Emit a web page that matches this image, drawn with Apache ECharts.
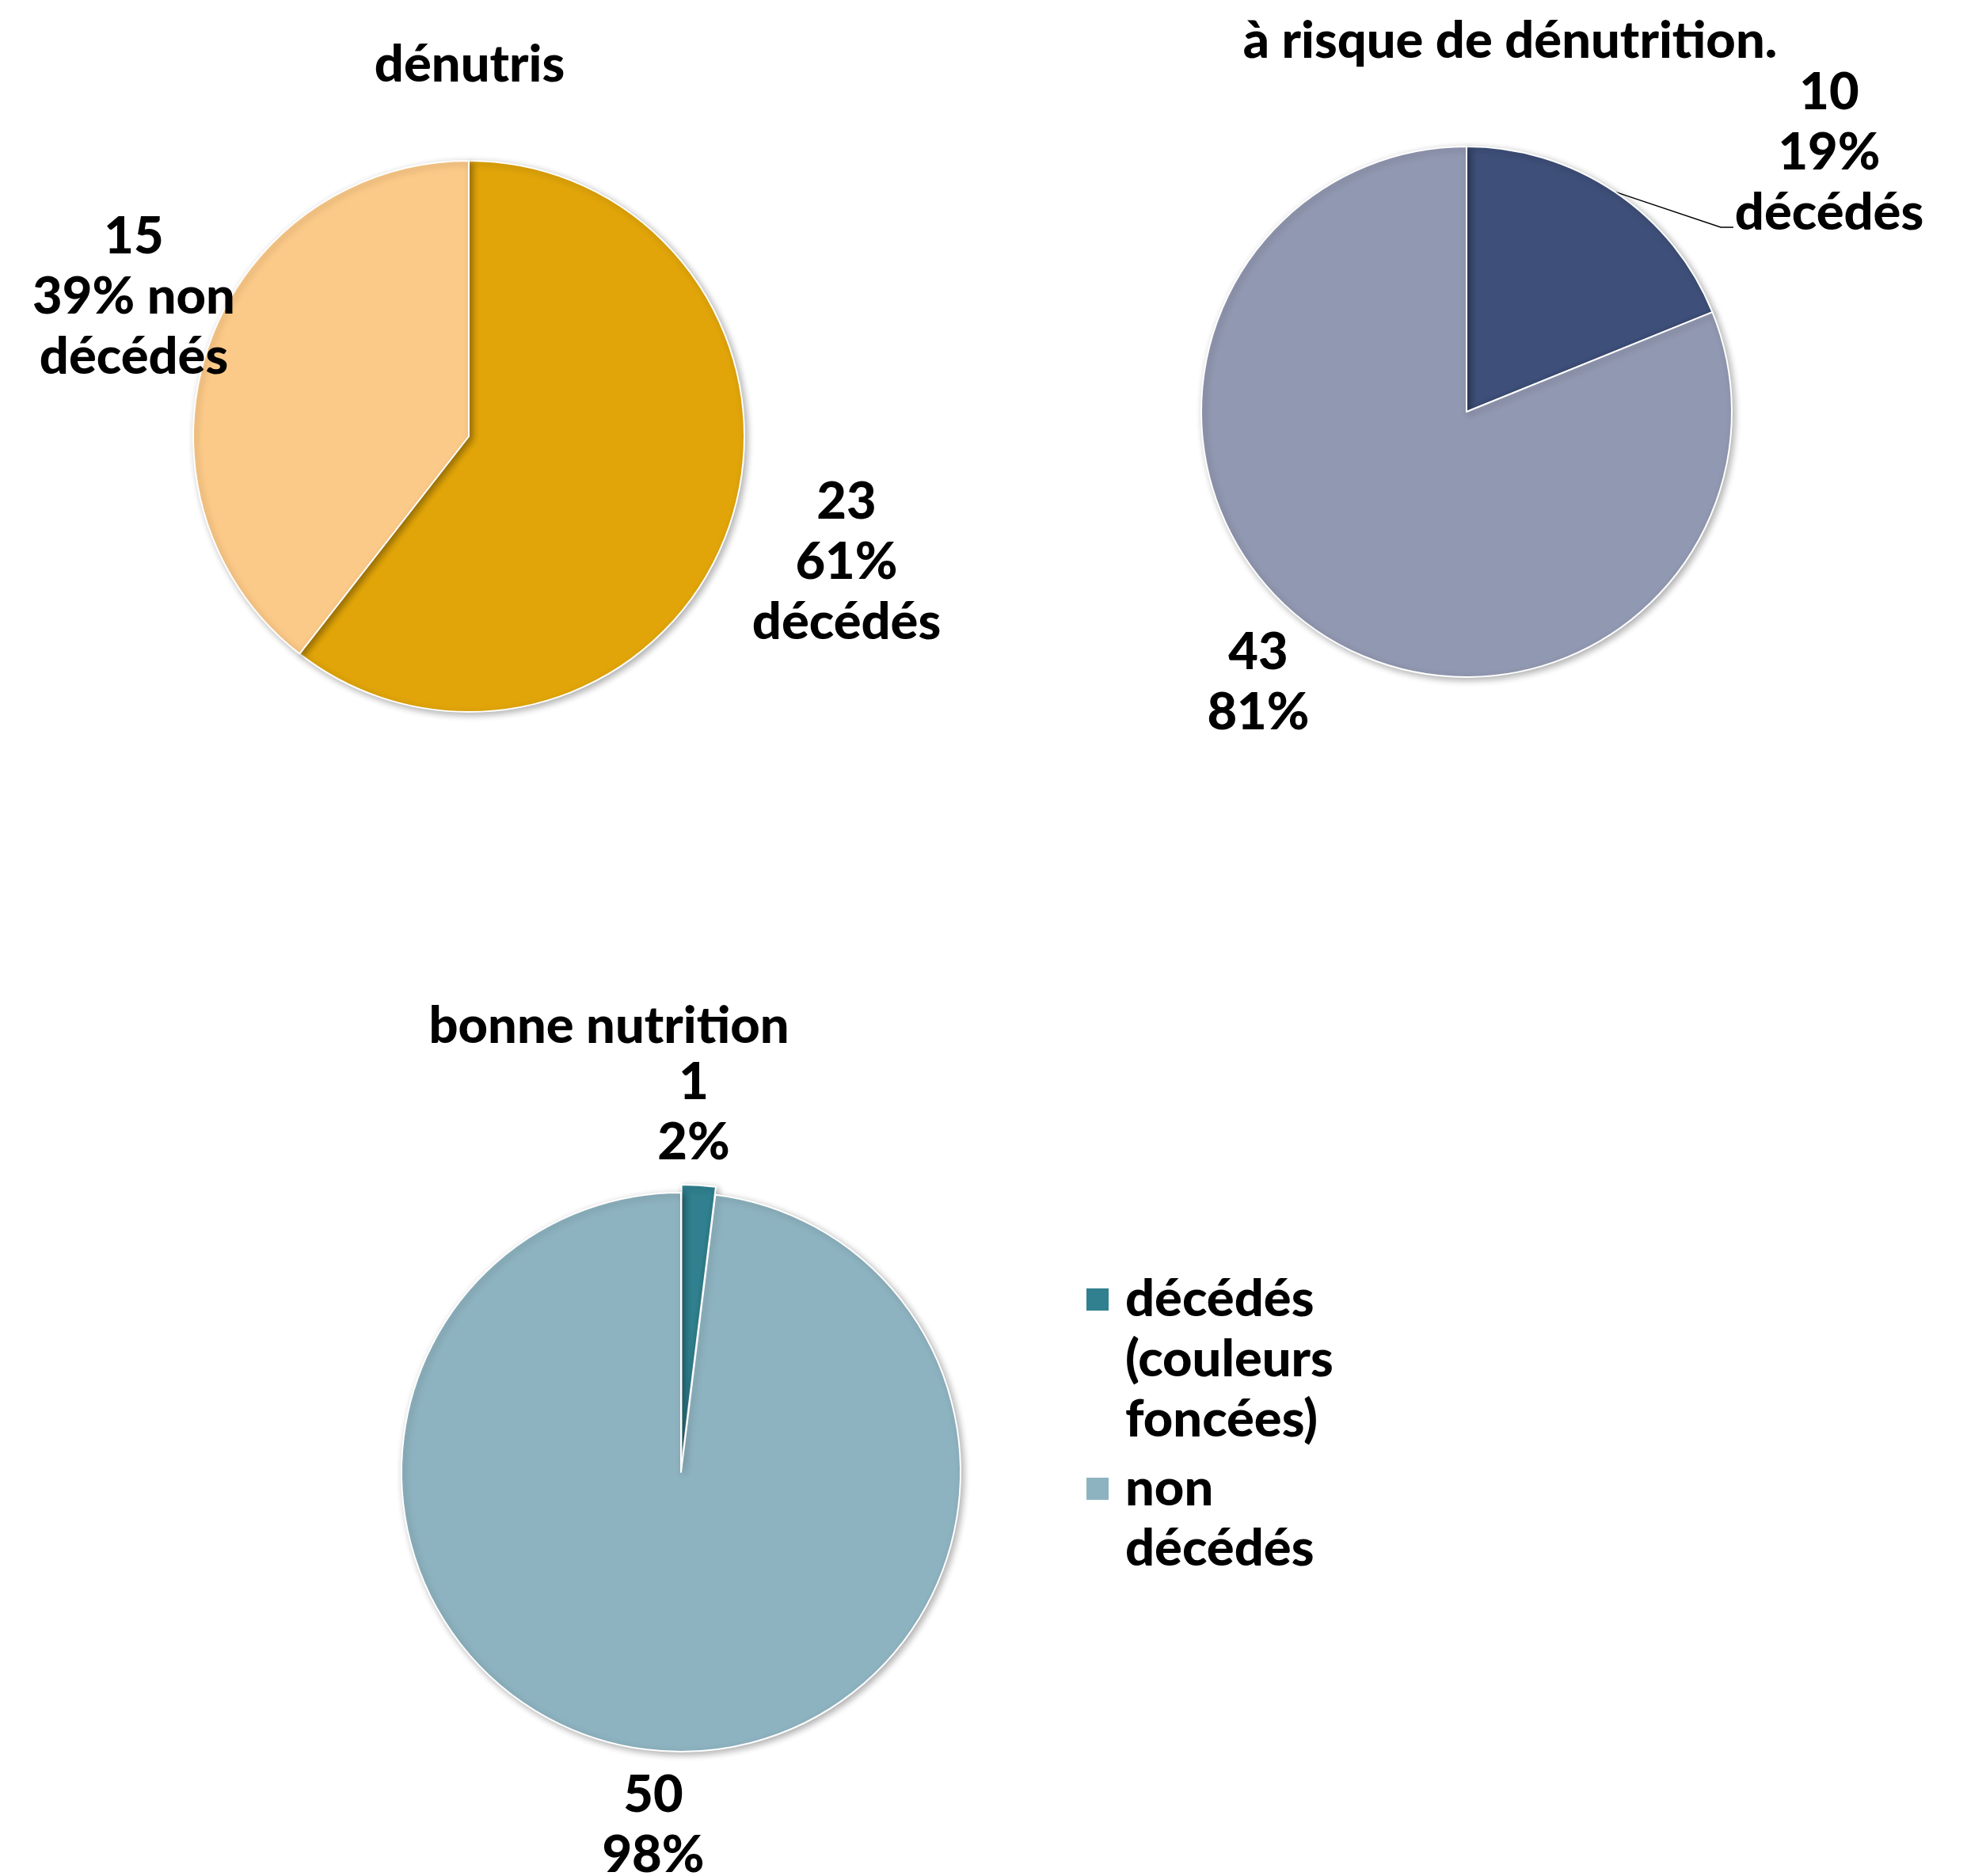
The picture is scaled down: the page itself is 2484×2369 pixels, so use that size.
<!DOCTYPE html>
<html><head><meta charset="utf-8">
<script src="https://cdn.jsdelivr.net/npm/echarts@6/dist/echarts.min.js"></script>
<style>html,body{margin:0;padding:0;background:#fff}#c{width:2484px;height:2369px}</style>
</head><body><div id="c"></div>
<script>
// ---- data ----
const groupTitles = ['dénutris', 'à risque de dénutrition.', 'bonne nutrition'];
const categories = ['décédés', 'non décédés'];
const deceasedCounts = [23, 10, 1];
const aliveCounts = [15, 43, 50];
const deceasedSuffix = ['\ndécédés', '\ndécédés', ''];
const aliveSuffix = [' non\ndécédés', '', ''];
const legendLabels = ['décédés\n(couleurs\nfoncées)', 'non\ndécédés'];

// ---- styles / layout ----
const darkColors = ['#E1A50A', '#3E4F79', '#30808F'];
const lightColors = ['#FCCA88', '#9198B1', '#8EB3C0'];
const FONT = 'Lato, "Open Sans", sans-serif';
const FS = 65, LH = 76;
const pies = [
  {center: [592, 551], r: 348, title: [593, 82], labels: [[1069, 710], [169, 375]]},
  {center: [1852, 520], r: 335, title: [1907, 52], labels: [[2310, 193], [1589, 862]]},
  {center: [860, 1859], r: 353, title: [769, 1296], labels: [[876, 1405], [825, 2305]]}
];
const EXPLODED = 2; // pie whose "décédés" slice is pulled out

const chart = echarts.init(document.getElementById('c'), null, {renderer: 'canvas'});
const textBase = {fontFamily: FONT, fontSize: FS, fontWeight: 900, color: '#000'};

function labelText(i, q) {
  return q.value + '\n' + q.percent + '%' + (q.dataIndex === 0 ? deceasedSuffix[i] : aliveSuffix[i]);
}
function makeLayout(i) {
  const p = pies[i];
  return function (params) {
    const pos = p.labels[params.dataIndex];
    const res = {x: pos[0], y: pos[1], align: 'center', verticalAlign: 'middle'};
    if (i === 1 && params.dataIndex === 0 && params.labelLinePoints) {
      res.labelLinePoints = [params.labelLinePoints[0], [pos[0] - 137, pos[1] + 94], [pos[0] - 121, pos[1] + 94]];
    }
    return res;
  };
}

const series = pies.map((p, i) => ({
  type: 'pie', center: p.center, radius: p.r, startAngle: 90, clockwise: true,
  selectedMode: i === EXPLODED ? 'single' : false, selectedOffset: 10,
  avoidLabelOverlap: false, percentPrecision: 0,
  emphasis: {disabled: true},
  itemStyle: {borderColor: '#fff', borderWidth: 2, shadowBlur: 8, shadowColor: 'rgba(0,0,0,0.3)', shadowOffsetX: 3, shadowOffsetY: 3},
  label: Object.assign({show: true, position: 'outside', lineHeight: LH, align: 'center',
    formatter: q => labelText(i, q)}, textBase),
  labelLine: {show: false},
  data: [
    {name: categories[0], value: deceasedCounts[i], selected: i === EXPLODED,
     itemStyle: {color: darkColors[i]},
     label: {show: i !== EXPLODED},
     labelLine: {show: i === 1, lineStyle: {color: '#000', width: 1.5}}},
    {name: categories[1], value: aliveCounts[i], itemStyle: {color: lightColors[i]}}
  ],
  labelLayout: makeLayout(i)
}));

// label carrier for the exploded slice (same data, invisible sectors)
series.push({
  type: 'pie', center: pies[EXPLODED].center, radius: pies[EXPLODED].r, startAngle: 90, clockwise: true,
  silent: true, selectedMode: false, avoidLabelOverlap: false, percentPrecision: 0, z: 3,
  emphasis: {disabled: true},
  itemStyle: {color: 'rgba(0,0,0,0)', borderWidth: 0, shadowBlur: 0},
  label: Object.assign({show: true, position: 'outside', lineHeight: LH, align: 'center',
    formatter: q => labelText(EXPLODED, q)}, textBase),
  labelLine: {show: false},
  data: [
    {name: categories[0], value: deceasedCounts[EXPLODED]},
    {name: categories[1], value: aliveCounts[EXPLODED], label: {show: false}}
  ],
  labelLayout: makeLayout(EXPLODED)
});

const option = {
  backgroundColor: '#fff',
  animation: false,
  title: groupTitles.map((t, i) => ({
    text: t, left: pies[i].title[0], top: pies[i].title[1] - FS / 2,
    textAlign: 'center', padding: 0,
    textStyle: Object.assign({}, textBase)
  })),
  legend: categories.map((c, k) => ({
    data: [{name: c, itemStyle: {color: k === 0 ? darkColors[EXPLODED] : lightColors[EXPLODED], borderWidth: 0, shadowBlur: 0}}],
    formatter: n => {
      const txt = legendLabels[categories.indexOf(n)];
      const lines = txt.split('\n').length;
      return '\n'.repeat(lines - 1) + txt; // keep the first line level with the icon
    },
    orient: 'vertical', left: 1372, top: k === 0 ? 1641 - 2.5 * LH : 1880 - 1.5 * LH, padding: 0,
    itemWidth: 28, itemHeight: 28, icon: 'rect', selectedMode: false,
    textStyle: Object.assign({}, textBase, {lineHeight: LH, padding: [0, 0, 0, 16]})
  })),
  series: series
};
chart.setOption(option);
</script>
</body></html>
